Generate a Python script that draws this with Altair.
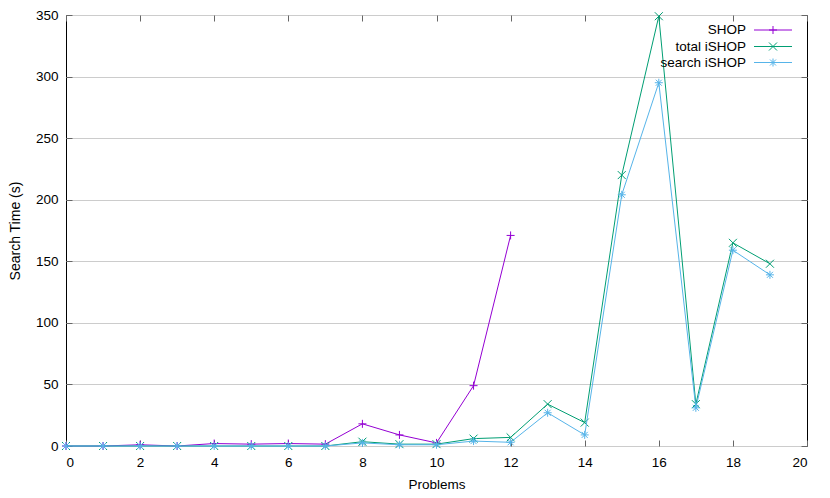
import altair as alt
import pandas as pd

# ---- data ----
problems = list(range(20))
shop = [0, 0, 1, 0, 2, 1.5, 2, 1.5, 18, 9, 2.5, 49, 171]
total_ishop = [0, 0, 0, 0, 0, 0, 0, 0, 3.5, 1.5, 1.5, 6, 7, 34, 19, 220, 349, 34, 165, 148]
search_ishop = [0, 0, 0, 0, 0, 0, 0, 0, 2.5, 1, 1, 4, 3, 27, 9, 204, 295, 31, 159, 139]

series_names = ["SHOP", "total iSHOP", "search iSHOP"]
series_values = [shop, total_ishop, search_ishop]
colors = ["#9400d3", "#009e73", "#56b4e9"]
paths = [
    "M-1,0L1,0M0,-1L0,1",
    "M-1,-1L1,1M-1,1L1,-1",
    "M-1,0L1,0M0,-1L0,1M-0.75,-0.75L0.75,0.75M-0.75,0.75L0.75,-0.75",
]
x_ticks = list(range(0, 21, 2))
y_ticks = list(range(0, 351, 50))

W, H = 741, 431
FONT = "Liberation Sans"
FS = 13.5

xs = alt.Scale(domain=[0, 20], nice=False, zero=False)
ys = alt.Scale(domain=[0, 350], nice=False)

frames = []
for name, vals in zip(series_names, series_values):
    frames.append(pd.DataFrame({"x": problems[: len(vals)], "y": vals, "series": name}))
df = pd.concat(frames, ignore_index=True)

layers = []

# labelled axes + grid (invisible carrier layer)
layers.append(
    alt.Chart(df).mark_point(opacity=0).encode(
        x=alt.X("x:Q", scale=xs, axis=alt.Axis(
            title="Problems", values=x_ticks, tickSize=0, domain=False, grid=False,
            labelPadding=9, titleY=38, titleBaseline="middle")),
        y=alt.Y("y:Q", scale=ys, axis=alt.Axis(
            title="Search Time (s)", values=y_ticks, tickSize=0, domain=False, grid=True,
            gridColor="#cccccc", gridWidth=1, labelPadding=8, titleFontSize=14,
            titleX=-51, titleY=H / 2, titleAngle=-90, titleBaseline="middle", titleAlign="center")),
    )
)

# inward ticks (bottom + left)
layers.append(
    alt.Chart(df).mark_point(opacity=0).encode(
        x=alt.X("x:Q", scale=xs, axis=alt.Axis(orient="top", offset=-H, values=x_ticks, labels=False,
                                               title=None, domain=False, tickSize=6, tickColor="#666666", grid=False)),
        y=alt.Y("y:Q", scale=ys, axis=alt.Axis(orient="right", offset=-W, values=y_ticks, labels=False,
                                               title=None, domain=False, tickSize=6, tickColor="#666666", grid=False)),
    )
)
# inward ticks (top + right)
layers.append(
    alt.Chart(df).mark_point(opacity=0).encode(
        x=alt.X("x:Q", scale=xs, axis=alt.Axis(orient="bottom", offset=-H, values=x_ticks, labels=False,
                                               title=None, domain=False, tickSize=6, tickColor="#666666", grid=False)),
        y=alt.Y("y:Q", scale=ys, axis=alt.Axis(orient="left", offset=-W, values=y_ticks, labels=False,
                                               title=None, domain=False, tickSize=6, tickColor="#666666", grid=False)),
    )
)

legend_rows = [15, 31.5, 47.5]
for name, col, path, row in zip(series_names, colors, paths, legend_rows):
    sub = df[df.series == name]
    layers.append(
        alt.Chart(sub).mark_line(color=col, strokeWidth=1).encode(
            x=alt.X("x:Q", scale=xs, axis=None), y=alt.Y("y:Q", scale=ys, axis=None)
        )
    )
    layers.append(
        alt.Chart(sub).mark_point(shape=path, size=64, filled=False, color=col, strokeWidth=1, opacity=1).encode(
            x=alt.X("x:Q", scale=xs, axis=None), y=alt.Y("y:Q", scale=ys, axis=None)
        )
    )
    one = pd.DataFrame({"series": [name]})
    layers.append(
        alt.Chart(one).mark_text(align="right", baseline="middle", font=FONT, fontSize=FS, color="#000000").encode(
            x=alt.value(680), y=alt.value(row), text="series:N"
        )
    )
    layers.append(
        alt.Chart(one).mark_rule(color=col, strokeWidth=1).encode(
            x=alt.value(688), x2=alt.value(726), y=alt.value(row)
        )
    )
    layers.append(
        alt.Chart(one).mark_point(shape=path, size=64, filled=False, color=col, strokeWidth=1, opacity=1).encode(
            x=alt.value(707), y=alt.value(row)
        )
    )

chart = alt.layer(*layers).resolve_axis(x="independent", y="independent").properties(
    width=W, height=H,
    autosize=alt.AutoSizeParams(type="none"),
    padding={"left": 58, "top": 7, "right": 14, "bottom": 44},
).configure_view(stroke="#000000", strokeWidth=1).configure_axis(
    labelFont=FONT, labelFontSize=FS, labelColor="#000000",
    titleFont=FONT, titleFontSize=FS, titleFontWeight="normal", titleColor="#000000",
)

chart.save("out.html", embed_options={"renderer": "svg", "actions": False})
